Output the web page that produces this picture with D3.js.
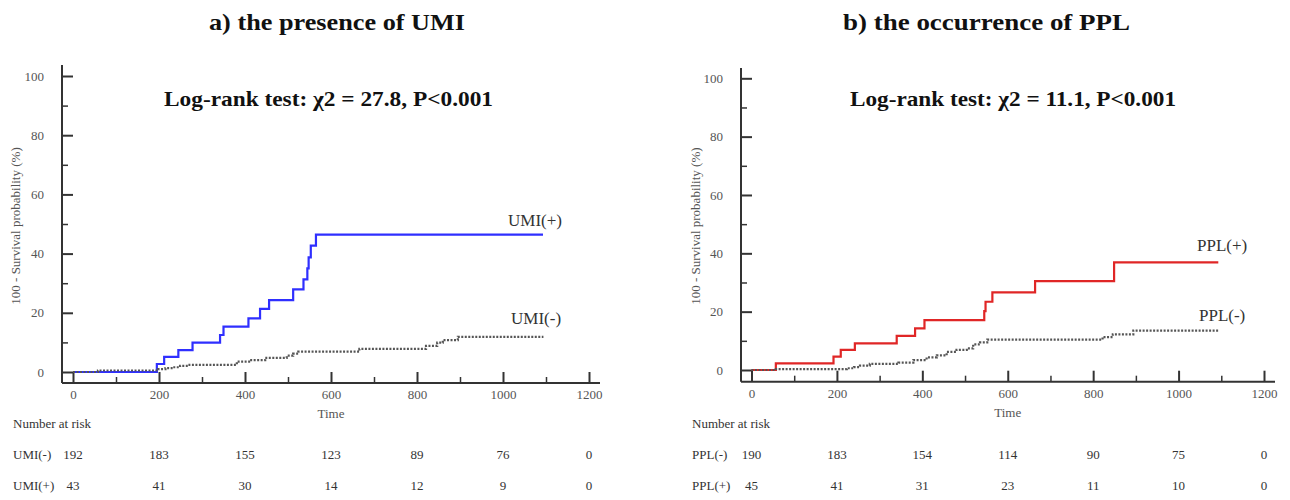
<!DOCTYPE html>
<html>
<head>
<meta charset="utf-8">
<script src="https://cdn.jsdelivr.net/npm/d3@7"></script>
<style>
  html, body { margin: 0; padding: 0; background: #fff; }
  svg { display: block; }
  text { font-family: "Liberation Serif", "DejaVu Serif", serif; }
</style>
</head>
<body>
<svg id="chart" width="1290" height="500"></svg>
<script>
// ---------- DATA ----------
const riskTimes = [0, 200, 400, 600, 800, 1000, 1200];
const xTicks = [0, 200, 400, 600, 800, 1000, 1200];
const yTicks = [0, 20, 40, 60, 80, 100];

// Panel a) UMI
const umiPosTimes  = [0, 195, 212, 245, 278, 342, 350, 408, 435, 456, 512, 536, 545, 548, 553, 565, 1093];
const umiPosValues = [0, 2.7, 5.1, 7.4, 9.9, 12.5, 15.3, 18.1, 21.3, 24.3, 27.9, 31.3, 35.0, 38.7, 42.7, 46.4, 46.4];
const umiNegTimes  = [0, 58, 198, 215, 233, 249, 268, 381, 412, 447, 497, 512, 524, 666, 821, 847, 860, 895, 1094];
const umiNegValues = [0, 0.5, 1.0, 1.3, 1.6, 2.1, 2.4, 3.5, 4.0, 4.8, 5.5, 6.2, 6.9, 7.8, 8.8, 9.9, 10.8, 11.9, 11.9];
const umiNegRisk = [192, 183, 155, 123, 89, 76, 0];
const umiPosRisk = [43, 41, 30, 14, 12, 9, 0];

// Panel b) PPL
const pplPosTimes  = [0, 57, 192, 209, 242, 340, 383, 405, 545, 548, 564, 664, 849, 1093];
const pplPosValues = [0, 2.3, 4.6, 6.9, 9.1, 11.7, 14.3, 17.1, 20.2, 23.4, 26.6, 30.5, 36.9, 36.9];
const pplNegTimes  = [0, 57, 223, 240, 254, 277, 344, 379, 410, 434, 457, 480, 504, 519, 535, 552, 822, 846, 894, 1093];
const pplNegValues = [0, 0.3, 0.6, 1.0, 1.5, 2.1, 2.5, 3.4, 4.3, 5.0, 6.2, 6.9, 7.4, 8.8, 9.5, 10.4, 11.3, 12.2, 13.5, 13.5];
const pplNegRisk = [190, 183, 154, 114, 90, 75, 0];
const pplPosRisk = [45, 41, 31, 23, 11, 10, 0];

const panels = [
  {
    title: "a) the presence of UMI", titleX: 209, titleW: 256,
    test: "Log-rank test: \u03C72 = 27.8, P<0.001", testX: 164, testW: 329,
    x0: 73, x1: 589, y0: 372, y1: 76, axX: 62, axY: 383, axTop: 65, axRight: 600,
    yLabelX: 17,
    riskLabelX: 13,
    pos: { name: "UMI(+)", t: umiPosTimes, v: umiPosValues, risk: umiPosRisk, color: "#2f2fff", lx: 508, ly: 222 },
    neg: { name: "UMI(-)", t: umiNegTimes, v: umiNegValues, risk: umiNegRisk, lx: 511, ly: 320 }
  },
  {
    title: "b) the occurrence of PPL", titleX: 843, titleW: 287,
    test: "Log-rank test: \u03C72 = 11.1, P<0.001", testX: 850, testW: 326,
    x0: 751.5, x1: 1264, y0: 370, y1: 78.3, axX: 741, axY: 381.7, axTop: 68, axRight: 1275,
    yLabelX: 697,
    riskLabelX: 692,
    pos: { name: "PPL(+)", t: pplPosTimes, v: pplPosValues, risk: pplPosRisk, color: "#e02626", lx: 1197, ly: 247 },
    neg: { name: "PPL(-)", t: pplNegTimes, v: pplNegValues, risk: pplNegRisk, lx: 1199, ly: 317 }
  }
];

const svg = d3.select("#chart");
const axisColor = "#333";
const tickTextColor = "#555";
const serif = "Liberation Serif";

function boldText(g, x, y, size, w, txt) {
  g.append("text").attr("x", x).attr("y", y)
    .attr("text-anchor", "start").attr("font-size", size)
    .attr("font-family", serif).attr("font-weight", "bold")
    .attr("textLength", w).attr("lengthAdjust", "spacingAndGlyphs")
    .attr("fill", "#111")
    .text(txt);
}

panels.forEach(p => {
  const g = svg.append("g");
  const x = d3.scaleLinear().domain([0, 1200]).range([p.x0, p.x1]);
  const y = d3.scaleLinear().domain([0, 100]).range([p.y0, p.y1]);

  // Titles
  boldText(g, p.titleX, 30, 24, p.titleW, p.title);
  boldText(g, p.testX, 106, 21, p.testW, p.test);

  // Axis lines
  g.append("line").attr("x1", p.axX).attr("x2", p.axX).attr("y1", p.axTop).attr("y2", p.axY)
    .attr("stroke", axisColor).attr("stroke-width", 2);
  g.append("line").attr("x1", p.axX).attr("x2", p.axRight).attr("y1", p.axY).attr("y2", p.axY)
    .attr("stroke", axisColor).attr("stroke-width", 2);

  // Y axis major ticks + labels
  const yAxis = d3.axisLeft(y).tickValues(yTicks).tickSizeInner(-11).tickSizeOuter(0).tickPadding(18);
  const gy = g.append("g").attr("transform", `translate(${p.axX},0)`).call(yAxis);
  gy.select(".domain").remove();
  gy.selectAll(".tick line").attr("stroke", axisColor).attr("stroke-width", 2);
  gy.selectAll(".tick text").attr("font-size", 13).attr("fill", tickTextColor)
    .attr("font-family", serif);
  // Y minor ticks
  const yMinor = d3.axisLeft(y).tickValues([10, 30, 50, 70, 90]).tickSizeInner(-6).tickSizeOuter(0).tickFormat("");
  const gym = g.append("g").attr("transform", `translate(${p.axX},0)`).call(yMinor);
  gym.select(".domain").remove();
  gym.selectAll(".tick line").attr("stroke", axisColor).attr("stroke-width", 1.5);

  // X axis major ticks + labels
  const xAxis = d3.axisBottom(x).tickValues(xTicks).tickFormat(d3.format("d"))
    .tickSizeInner(-11).tickSizeOuter(0).tickPadding(7);
  const gx = g.append("g").attr("transform", `translate(0,${p.axY})`).call(xAxis);
  gx.select(".domain").remove();
  gx.selectAll(".tick line").attr("stroke", axisColor).attr("stroke-width", 2);
  gx.selectAll(".tick text").attr("font-size", 13).attr("fill", tickTextColor)
    .attr("font-family", serif);
  const xMinor = d3.axisBottom(x).tickValues([100, 300, 500, 700, 900, 1100]).tickSizeInner(-6).tickSizeOuter(0).tickFormat("");
  const gxm = g.append("g").attr("transform", `translate(0,${p.axY})`).call(xMinor);
  gxm.select(".domain").remove();
  gxm.selectAll(".tick line").attr("stroke", axisColor).attr("stroke-width", 1.5);

  // Axis titles
  g.append("text").attr("x", (p.x0 + p.x1) / 2).attr("y", p.axY + 35)
    .attr("text-anchor", "middle").attr("font-size", 13).attr("fill", tickTextColor).text("Time");
  g.append("text")
    .attr("transform", `translate(${p.yLabelX},${(p.y0 + p.y1) / 2 + 2}) rotate(-90)`)
    .attr("text-anchor", "middle").attr("dominant-baseline", "middle")
    .attr("font-size", 13).attr("fill", tickTextColor).text("100 - Survival probability (%)");

  // Curves
  const line = d3.line().x(d => x(d[0])).y(d => y(d[1])).curve(d3.curveStepAfter);
  const negPts = p.neg.t.map((t, i) => [t, p.neg.v[i]]);
  const posPts = p.pos.t.map((t, i) => [t, p.pos.v[i]]);
  g.append("path").datum(posPts).attr("d", line)
    .attr("fill", "none").attr("stroke", p.pos.color).attr("stroke-width", 2.2);
  g.append("path").datum(negPts).attr("d", line)
    .attr("fill", "none").attr("stroke", "#555").attr("stroke-width", 2.2)
    .attr("stroke-dasharray", "2,1.5");

  // Curve labels
  [p.pos, p.neg].forEach(s => {
    g.append("text").attr("x", s.lx).attr("y", s.ly).attr("dominant-baseline", "middle")
      .attr("font-size", 17).attr("fill", "#333").text(s.name);
  });

  // Number at risk table
  g.append("text").attr("x", p.riskLabelX).attr("y", 425).attr("dominant-baseline", "middle")
    .attr("font-size", 13).attr("fill", "#333").text("Number at risk");
  [[p.neg, 456], [p.pos, 487]].forEach(([s, ry]) => {
    g.append("text").attr("x", p.riskLabelX).attr("y", ry).attr("dominant-baseline", "middle")
      .attr("font-size", 13).attr("fill", "#333").text(s.name);
    g.selectAll(null).data(riskTimes).enter().append("text")
      .attr("x", (d) => x(d)).attr("y", ry).attr("dominant-baseline", "middle")
      .attr("text-anchor", "middle").attr("font-size", 13).attr("fill", "#333")
      .text((d, i) => s.risk[i]);
  });
});
</script>
</body>
</html>
